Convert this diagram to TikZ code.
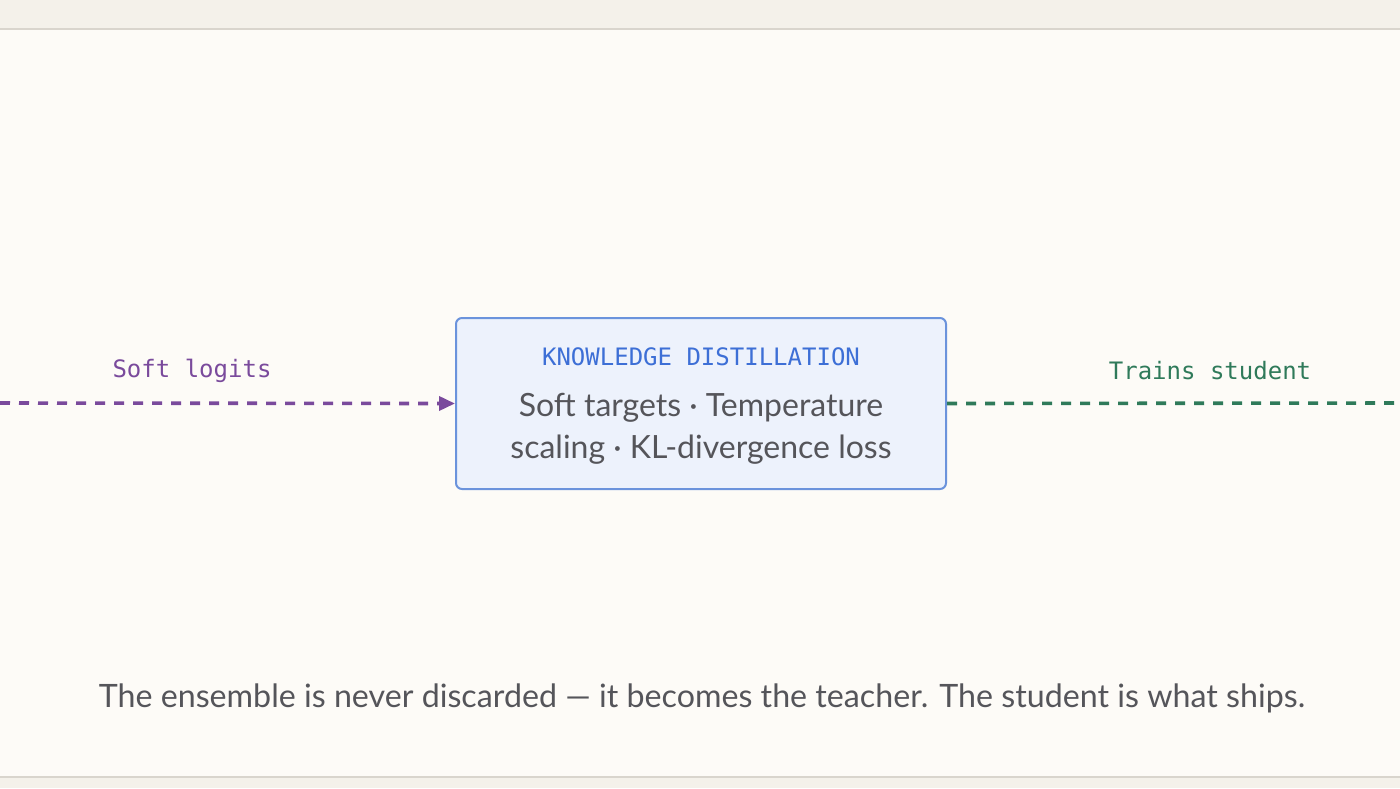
\documentclass[tikz,border=0pt]{standalone}
\usepackage{fontspec}
\setmainfont{Lato}
\setmonofont{DejaVu Sans Mono}
\usetikzlibrary{arrows.meta}

\definecolor{paper}{HTML}{FDFBF7}
\definecolor{band}{HTML}{F4F1EA}
\definecolor{rulegray}{HTML}{D9D5CD}
\definecolor{boxfill}{HTML}{EDF2FC}
\definecolor{boxdraw}{HTML}{6B93DC}
\definecolor{titleblue}{HTML}{3D6FD6}
\definecolor{bodygray}{HTML}{55555A}
\definecolor{logitpurple}{HTML}{7A4A9C}
\definecolor{studentgreen}{HTML}{2F7A5A}

\tikzset{
  kdbox/.style={draw=boxdraw, fill=boxfill, line width=1pt, rounded corners=3pt,
    minimum width=245pt, minimum height=85.5pt},
  flow/.style={line width=1.8pt, dash pattern=on 5pt off 4.5pt},
  flowlabel/.style={font=\fontsize{12}{14}\selectfont\ttfamily},
}

\begin{document}
\begin{tikzpicture}[x=0.5pt,y=-0.5pt]
\useasboundingbox (0,0) rectangle (1400,788);
% page
\fill[paper] (0,0) rectangle (1400,788);
\fill[band] (0,0) rectangle (1400,29);
\fill[band] (0,777) rectangle (1400,788);
\draw[rulegray, line width=1.2pt] (0,29) -- (1400,29);
\draw[rulegray, line width=1.2pt] (0,777) -- (1400,777);

% distillation box
\node[kdbox] (kd) at (701,403.5) {};
\node[text=titleblue, font=\fontsize{12}{14}\selectfont\ttfamily] (kdtitle) at (701,357) {KNOWLEDGE DISTILLATION};
\node[text=bodygray, align=center, font=\fontsize{16}{21}\selectfont] (kdbody) at (701,429)
  {Soft targets · Temperature\\scaling · KL-divergence loss};

% flows
\coordinate (ensemble) at (0,403);
\coordinate (student) at (1400,403);
\draw[flow, logitpurple, -{Triangle[length=8pt, width=7pt]}] (ensemble) -- (kd.west);
\draw[flow, studentgreen] (kd.east) -- (student);

% labels
\node[flowlabel, text=logitpurple] (logitlabel) at (192,371) {Soft logits};
\node[flowlabel, text=studentgreen] (trainlabel) at (1210,371) {Trains student};

\node[text=bodygray, font=\fontsize{16.1}{19}\selectfont] (caption) at (702,698)
  {The ensemble is never discarded — it becomes the teacher. The student is what ships.};
\end{tikzpicture}
\end{document}
